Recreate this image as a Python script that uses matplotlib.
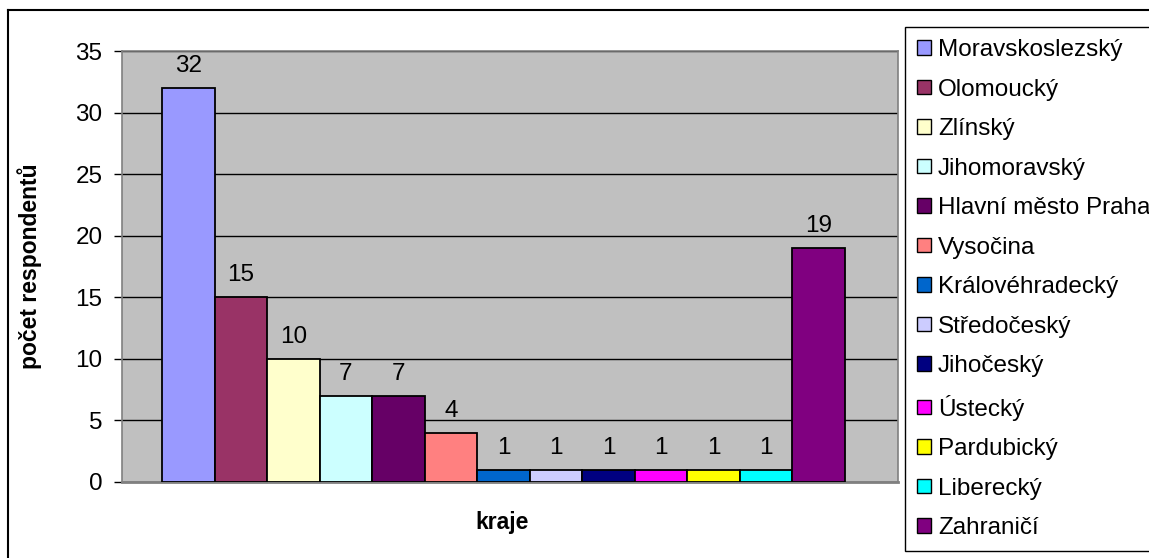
import matplotlib
matplotlib.use("Agg")
import matplotlib.pyplot as plt
from matplotlib.lines import Line2D
from matplotlib.patches import Patch

plt.rcParams["font.family"] = ["Liberation Sans", "DejaVu Sans"]

# data
regions = ["Moravskoslezský", "Olomoucký", "Zlínský", "Jihomoravský",
           "Hlavní město Praha", "Vysočina", "Královéhradecký", "Středočeský",
           "Jihočeský", "Ústecký", "Pardubický", "Liberecký", "Zahraničí"]
counts = [32, 15, 10, 7, 7, 4, 1, 1, 1, 1, 1, 1, 19]
colors = ["#9999FF", "#993366", "#FFFFCC", "#CCFFFF", "#660066", "#FF8080",
          "#0066CC", "#CCCCFF", "#000080", "#FF00FF", "#FFFF00", "#00FFFF",
          "#800080"]
yticks = [0, 5, 10, 15, 20, 25, 30, 35]

W, H = 1149, 558
fig = plt.figure(figsize=(W / 100, H / 100), dpi=100)
ax = fig.add_axes([122 / W, 1 - 482 / H, (898 - 122) / W, (482 - 51) / H])
ax.set_facecolor("#C0C0C0")

xs = list(range(len(counts)))
bars = ax.bar(xs, counts, width=1.0, align="edge", color=colors,
              edgecolor="black", linewidth=1.3, zorder=3)
for x, v in zip(xs, counts):
    ax.annotate(str(v), (x + 0.5, v), xytext=(0, 8), textcoords="offset points",
                ha="center", va="bottom", fontsize=17.5)

ax.set_xlim(-40 / 52.5, 13 + 53 / 52.5)
ax.set_ylim(0, 35)
ax.set_yticks(yticks)
ax.set_xticks([])
ax.tick_params(axis="y", labelsize=17.5, length=6, width=1, direction="out", pad=8)
ax.yaxis.grid(True, color="black", linewidth=1, zorder=1)
ax.set_axisbelow(True)
for side in ["top", "right", "left"]:
    ax.spines[side].set_color("#808080")
    ax.spines[side].set_linewidth(1.2)
ax.spines["bottom"].set_color("#808080")
ax.spines["bottom"].set_linewidth(2)

ax.set_ylabel("počet respondentů", fontsize=16.5, fontweight="bold")
ax.yaxis.set_label_coords(-(122 - 42) / (898 - 122), 0.5)
ax.set_xlabel("kraje", fontsize=16.5, fontweight="bold")
ax.xaxis.set_label_coords((502 - 122) / (898 - 122), -(511 - 482) / (482 - 51))

# outer chart frame
fig.add_artist(Line2D([8 / W, 1], [1 - 10 / H, 1 - 10 / H], color="black", linewidth=1.5))
fig.add_artist(Line2D([8 / W, 8 / W], [0, 1 - 10 / H], color="black", linewidth=1.5))

handles = [Patch(facecolor=c, edgecolor="black", linewidth=1) for c in colors]
leg = fig.legend(handles, regions, loc="upper left",
                 bbox_to_anchor=(905 / W, 1 - 27 / H), fontsize=17.5,
                 handlelength=0.55, handleheight=0.55, handletextpad=0.3,
                 labelspacing=0.72, borderpad=0.5, borderaxespad=0,
                 fancybox=False, framealpha=1, edgecolor="black")
leg.get_frame().set_linewidth(1)

fig.savefig("out.png", dpi=100)
